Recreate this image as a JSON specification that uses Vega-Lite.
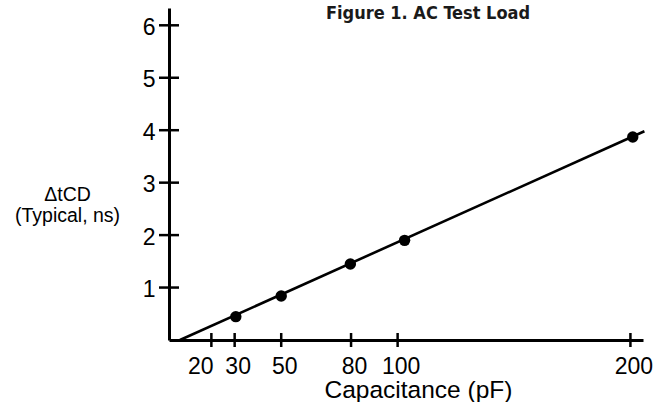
{
  "$schema": "https://vega.github.io/schema/vega-lite/v6.json",
  "width": 474,
  "height": 332,
  "autosize": {"type": "none"},
  "padding": {"left": 169, "top": 8, "right": 22, "bottom": 62},
  "background": "white",
  "config": {"view": {"stroke": null}},
  "title": {
    "text": "Figure 1. AC Test Load",
    "font": "DejaVu Sans Condensed",
    "fontWeight": "bold",
    "fontSize": 18,
    "color": "#1a1a1a",
    "anchor": "middle",
    "frame": "group",
    "offset": 0,
    "baseline": "alphabetic",
    "dx": 22,
    "dy": 29
  },
  "datasets": {
    "fit": [
      {"capacitance": 6.5, "delay": 0},
      {"capacitance": 206, "delay": 3.98}
    ],
    "points": [
      {"capacitance": 30.5, "delay": 0.445},
      {"capacitance": 50, "delay": 0.84},
      {"capacitance": 79.7, "delay": 1.45},
      {"capacitance": 103, "delay": 1.9},
      {"capacitance": 201, "delay": 3.87}
    ],
    "xticks": [{"capacitance": 20}, {"capacitance": 30}, {"capacitance": 50}, {"capacitance": 80}, {"capacitance": 100}, {"capacitance": 200}],
    "yticks": [{"delay": 1}, {"delay": 2}, {"delay": 3}, {"delay": 4}, {"delay": 5}, {"delay": 6}]
  },
  "encoding": {
    "x": {
      "type": "quantitative",
      "scale": {"domain": [1.8, 205.4], "nice": false, "zero": false},
      "axis": {
        "values": [20, 30, 50, 80, 100, 200],
        "ticks": false,
        "grid": false,
        "domainColor": "black",
        "domainWidth": 3,
        "labelFont": "Liberation Sans",
        "labelFontSize": 23,
        "labelColor": "black",
        "labelPadding": 15,
        "labelBaseline": "top",
        "labelFlush": false,
        "labelOverlap": false,
        "labelOffset": {"condition": {"test": "datum.value == 20", "value": -11}, "value": 3},
        "title": "Capacitance (pF)",
        "titleFont": "Liberation Sans",
        "titleFontSize": 24.5,
        "titleFontWeight": "normal",
        "titleColor": "black",
        "titleX": 249,
        "titleY": 57.5,
        "titleAlign": "center",
        "titleBaseline": "alphabetic"
      }
    },
    "y": {
      "type": "quantitative",
      "scale": {"domain": [0, 6.33], "nice": false},
      "axis": {
        "values": [1, 2, 3, 4, 5, 6],
        "ticks": false,
        "grid": false,
        "domainColor": "black",
        "domainWidth": 3,
        "labelFont": "Liberation Sans",
        "labelFontSize": 23,
        "labelColor": "black",
        "labelPadding": 14,
        "labelOffset": 2,
        "labelFlush": false,
        "labelOverlap": false,
        "title": ["ΔtCD", "(Typical, ns)"],
        "titleFont": "Liberation Sans",
        "titleFontSize": 19.5,
        "titleFontWeight": "normal",
        "titleColor": "black",
        "titleAngle": 0,
        "titleLineHeight": 21,
        "titleX": -102,
        "titleY": 192,
        "titleAlign": "center",
        "titleBaseline": "alphabetic"
      }
    }
  },
  "layer": [
    {
      "data": {"name": "fit"},
      "mark": {"type": "line", "color": "black", "strokeWidth": 2.6},
      "encoding": {
        "x": {"field": "capacitance", "type": "quantitative"},
        "y": {"field": "delay", "type": "quantitative"}
      }
    },
    {
      "data": {"name": "points"},
      "mark": {"type": "circle", "color": "black", "size": 130, "opacity": 1},
      "encoding": {
        "x": {"field": "capacitance", "type": "quantitative"},
        "y": {"field": "delay", "type": "quantitative"}
      }
    },
    {
      "data": {"name": "xticks"},
      "mark": {"type": "tick", "orient": "vertical", "color": "black", "size": 14, "thickness": 2.5, "opacity": 1},
      "encoding": {
        "x": {"field": "capacitance", "type": "quantitative"},
        "y": {"datum": 0, "type": "quantitative"}
      }
    },
    {
      "data": {"name": "yticks"},
      "mark": {"type": "tick", "orient": "horizontal", "color": "black", "size": 20, "thickness": 2.5, "opacity": 1},
      "encoding": {
        "y": {"field": "delay", "type": "quantitative"},
        "x": {"datum": 1.8, "type": "quantitative"}
      }
    }
  ]
}
